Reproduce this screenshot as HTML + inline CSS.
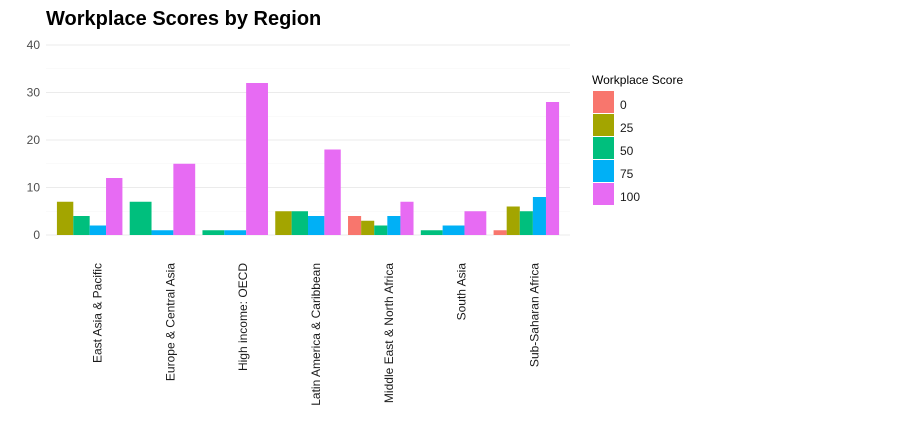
<!DOCTYPE html>
<html><head><meta charset="utf-8"><style>
body{margin:0;background:#fff;font-family:"Liberation Sans",Arial,sans-serif}
svg text{font-family:"Liberation Sans",Arial,sans-serif}
</style></head><body>
<svg id="chart" width="913" height="432" xmlns="http://www.w3.org/2000/svg">
<text x="46" y="25" font-size="20" font-weight="bold" fill="#000">Workplace Scores by Region</text>
<g id="grid"></g><g id="bars"></g><g id="xlabels"></g><g id="ylabels"></g><g id="legend"></g>
</svg>
<script>
const categories=["East Asia & Pacific","Europe & Central Asia","High income: OECD","Latin America & Caribbean","Middle East & North Africa","South Asia","Sub-Saharan Africa"];
const levels=["0","25","50","75","100"];
const colors=["#F8766D","#A3A500","#00BF7D","#00B0F6","#E76BF3"];
const s0=[null,null,null,null,4,null,1];
const s25=[7,null,null,5,3,null,6];
const s50=[4,7,1,5,2,1,5];
const s75=[2,1,1,4,4,2,8];
const s100=[12,15,32,18,7,5,28];
const series=[s0,s25,s50,s75,s100];
const yTicks=[0,10,20,30,40];
const NS="http://www.w3.org/2000/svg";
const left=46,right=570,y0=235,yTop=45;
const y=v=>y0-(v/40)*(y0-yTop);
const step=(right-left)/(categories.length+0.2);
const xc=i=>left+step*(0.6+i);
function mk(t,a,p){const e=document.createElementNS(NS,t);for(const k in a)e.setAttribute(k,a[k]);p.appendChild(e);return e;}
const grid=document.getElementById('grid');
for(let v=5;v<40;v+=10){const l=mk('line',{x1:left,x2:right,y1:y(v),y2:y(v),stroke:'#f4f4f4','stroke-width':0.6},grid);

}
yTicks.forEach(v=>{const l=mk('line',{x1:left,x2:right,y1:y(v),y2:y(v),stroke:'#ebebeb','stroke-width':1},grid);


const t=mk('text',{x:40,y:y(v)+4,'text-anchor':'end','font-size':12,fill:'#4d4d4d'},document.getElementById('ylabels'));t.textContent=v;

});
const bars=document.getElementById('bars');
categories.forEach((c,i)=>{
  const present=levels.map((_,j)=>j).filter(j=>series[j][i]!=null);
  const total=step*0.9, w=total/present.length, x0=xc(i)-total/2;
  present.forEach((j,k)=>{const v=series[j][i];
    const r=mk('rect',{x:x0+k*w,y:y(v),width:w,height:y0-y(v),fill:colors[j]},bars);
    
    });
  const t=mk('text',{transform:`translate(${xc(i)+12},263) rotate(-90)`,'text-anchor':'end','font-size':12,fill:'#1a1a1a'},document.getElementById('xlabels'));
  t.textContent=c;
  
  
});
const lg=document.getElementById('legend');
const lt=mk('text',{x:592,y:84,'font-size':12,fill:'#000'},lg);lt.textContent='Workplace Score';


levels.forEach((lv,j)=>{const yy=91+j*23;
  const r=mk('rect',{x:593,y:yy,width:21,height:22,fill:colors[j]},lg);
  
  
  const t=mk('text',{x:620,y:yy+18,'font-size':12,fill:'#1a1a1a'},lg);t.textContent=lv;
  
  });
</script>
</body></html>
